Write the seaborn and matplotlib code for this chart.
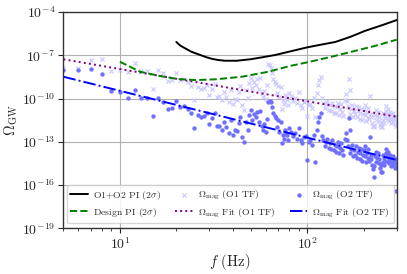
import numpy as np
import pandas as pd
import matplotlib
matplotlib.use("Agg")
import matplotlib.pyplot as plt
import seaborn as sns

# power-law integrated curves (log10 of Omega_GW)
pi_f = [20, 21, 22.3, 24, 26.8, 29, 31, 33.5, 36.4, 42, 49.6, 57, 67.5, 80, 100, 120, 141, 170, 204, 250, 300]
pi_o1o2 = [-6.08, -6.33, -6.52, -6.75, -6.98, -7.14, -7.25, -7.33, -7.38, -7.38, -7.28, -7.15, -6.98,
           -6.75, -6.45, -6.25, -6.08, -5.72, -5.30, -4.92, -4.56]

design_f = [10, 12.8, 16.4, 20.4, 25.2, 32.2, 44.8, 62.1, 81, 100, 135, 173, 230, 300]
design_pi = [-7.45, -8.14, -8.44, -8.65, -8.72, -8.67, -8.49, -8.14, -7.74, -7.49, -7.10, -6.75, -6.35, -5.92]

# power-law fits (end points, log10)
fit_f = [5, 300]
fit_o1 = [-7.28, -11.26]
fit_o2 = [-8.49, -14.26]

# magnetometer budget points (log10 Omega_mag)
freqs = list(range(5, 81)) + list(range(82, 301, 2))

omega_o2 = [
    -8.02, -8.02, -7.95, -8.30, -9.46, -9.53, -9.96, -9.41, -9.94, -9.94,
    -11.19, -9.94, -10.22, -10.75, -10.64, -10.17, -10.57, -10.52, -10.73, -11.03,
    -12.02, -11.14, -11.30, -11.21, -11.03, -11.77, -11.37, -10.98, -11.90, -11.88,
    -12.18, -11.60, -11.95, -12.37, -11.49, -12.53, -12.18, -12.23, -11.70, -11.30,
    -12.65, -13.00, -11.60, -12.18, -11.14, -10.80, -11.50, -11.07, -11.30, -10.91,
    -11.60, -10.84, -11.90, -12.20, -11.80, -12.30, -11.40, -10.22, -10.15, -10.22,
    -10.56, -11.00, -11.21, -11.37, -11.95, -11.49, -12.30, -11.60, -13.10, -12.50,
    -12.80, -12.18, -12.40, -12.53, -12.90, -12.07,
    -12.30, -12.60, -12.41, -12.80, -12.02, -12.90, -13.10, -12.70, -12.60, -14.26,
    -13.00, -12.90, -13.20, -12.50, -14.38, -12.18, -11.60, -11.30, -11.03, -12.60,
    -12.90, -13.30, -13.00, -12.80, -13.40, -13.10, -13.50, -12.90, -13.60, -13.20,
    -13.70, -13.30, -13.00, -13.80, -13.40, -13.10, -13.60, -13.90, -12.80, -12.41,
    -12.90, -13.30, -11.37, -12.18, -13.80, -13.50, -13.20, -14.00, -13.60, -13.90,
    -13.30, -14.10, -13.70, -13.40, -14.20, -13.80, -13.50, -14.30, -13.90, -13.60,
    -14.00, -13.30, -14.40, -13.80, -14.10, -13.50, -14.30, -12.65, -13.90, -14.20,
    -14.60, -14.90, -15.42, -14.70, -14.00, -13.70, -14.40, -14.10, -13.80, -14.50,
    -14.20, -14.80, -14.60, -15.10, -15.07, -14.40, -13.90, -14.10, -14.60, -14.30,
    -13.80, -13.50, -14.00, -14.40, -13.70, -14.20, -14.50, -13.90, -14.30, -14.70,
    -14.10, -14.40, -14.00, -14.60, -14.30, -14.80, -14.50, -16.41, -14.20, -14.60,
]

omega_o1 = [
    -7.90, -7.86, -7.33, -7.28, -8.09, -8.00, -8.18, -7.56, -8.07, -8.07,
    -9.34, -8.02, -8.25, -8.79, -8.72, -8.21, -8.73, -8.66, -8.85, -9.13,
    -10.10, -9.21, -9.35, -9.25, -9.05, -9.78, -9.36, -8.96, -9.86, -9.83,
    -10.12, -9.52, -9.86, -10.27, -9.38, -10.41, -10.05, -10.09, -9.55, -9.14,
    -10.48, -10.82, -9.41, -9.98, -8.93, -8.58, -9.27, -8.83, -9.06, -8.66,
    -9.34, -8.57, -9.62, -9.91, -9.51, -10.00, -9.09, -7.60, -7.70, -7.89,
    -8.22, -8.66, -8.86, -9.01, -9.59, -9.12, -9.92, -9.22, -10.71, -10.10,
    -10.40, -9.77, -9.99, -10.11, -10.47, -9.64,
    -9.84, -10.14, -9.95, -10.34, -9.56, -10.44, -10.64, -10.24, -10.14, -11.20,
    -10.45, -10.35, -10.65, -9.95, -11.30, -9.63, -9.05, -8.75, -8.48, -9.98,
    -10.28, -10.68, -10.38, -10.18, -10.78, -10.48, -10.88, -10.28, -10.98, -10.51,
    -11.01, -10.61, -10.31, -11.11, -10.71, -10.41, -10.91, -11.21, -10.11, -9.66,
    -10.15, -10.55, -8.62, -9.43, -11.05, -10.75, -10.45, -11.25, -10.85, -11.10,
    -10.50, -11.30, -10.90, -10.60, -11.40, -11.00, -10.70, -11.50, -11.10, -10.75,
    -11.15, -10.45, -11.55, -10.95, -11.25, -10.65, -11.45, -9.80, -11.05, -11.31,
    -11.71, -11.90, -12.00, -11.81, -11.11, -10.81, -11.51, -11.21, -10.91, -11.57,
    -11.27, -11.87, -11.67, -12.00, -12.00, -11.47, -10.97, -11.17, -11.67, -11.34,
    -10.84, -10.54, -11.04, -11.44, -10.74, -11.24, -11.54, -10.94, -11.34, -11.70,
    -11.10, -11.40, -11.00, -11.60, -11.30, -11.80, -11.50, -11.90, -11.20, -11.60,
]

pts = pd.DataFrame({"f": freqs,
                    "o1": np.power(10.0, omega_o1),
                    "o2": np.power(10.0, omega_o2)})

sns.set_style("ticks")
plt.rcParams["font.family"] = ["cmr10", "DejaVu Serif"]
plt.rcParams["mathtext.fontset"] = "cm"
plt.rcParams["axes.formatter.use_mathtext"] = True
plt.rcParams["axes.unicode_minus"] = False

fig = plt.figure(figsize=(4.07, 2.74), dpi=100)
ax = fig.add_axes([0.156, 0.1668, 0.8187, 0.7894])

sns.scatterplot(data=pts, x="f", y="o1", ax=ax, marker="x", s=9, color="#c8c8ff",
                linewidth=0.8, label=r"$\Omega_{\rm mag}$ (O1 TF)", zorder=2)
sns.scatterplot(data=pts, x="f", y="o2", ax=ax, marker="o", s=10, color="#7070ff",
                linewidth=0, label=r"$\Omega_{\rm mag}$ (O2 TF)", zorder=2)

sns.lineplot(x=pi_f, y=np.power(10.0, pi_o1o2), ax=ax, color="black", lw=1.4,
             label=r"O1+O2 PI (2$\sigma$)", zorder=4)
sns.lineplot(x=design_f, y=np.power(10.0, design_pi), ax=ax, color="green", lw=1.4,
             linestyle="--", label=r"Design PI (2$\sigma$)", zorder=4)
sns.lineplot(x=fit_f, y=np.power(10.0, fit_o1), ax=ax, color="purple", lw=1.4,
             linestyle=":", label=r"$\Omega_{\rm mag}$ Fit (O1 TF)", zorder=3)
sns.lineplot(x=fit_f, y=np.power(10.0, fit_o2), ax=ax, color="blue", lw=1.4,
             linestyle="-.", label=r"$\Omega_{\rm mag}$ Fit (O2 TF)", zorder=3)

ax.set_xscale("log")
ax.set_yscale("log")
ax.set_xlim(5, 300)
ax.set_ylim(1e-19, 1e-4)
ax.set_yticks([1e-19, 1e-16, 1e-13, 1e-10, 1e-7, 1e-4])
ax.minorticks_off()
ax.xaxis.set_minor_locator(matplotlib.ticker.LogLocator(base=10, subs=np.arange(2, 10)))
ax.xaxis.set_minor_formatter(matplotlib.ticker.NullFormatter())
ax.grid(True, which="major", color="#b0b0b0", lw=0.8)
ax.tick_params(labelsize=10, length=3.5, width=0.8, pad=2.5)
ax.tick_params(which="minor", length=2, width=0.6)
for sp in ax.spines.values():
    sp.set_linewidth(1.0)
    sp.set_color("#333333")

ax.set_xlabel(r"$f$ (Hz)", fontsize=10.5, labelpad=0)
ax.set_ylabel(r"$\Omega_{\rm GW}$", fontsize=10.5, labelpad=1)

h, l = ax.get_legend_handles_labels()
order = [2, 3, 0, 4, 1, 5]
ax.legend([h[i] for i in order], [l[i] for i in order], ncol=3, loc="lower center",
          fontsize=7, handlelength=1.8, handletextpad=0.5, columnspacing=1.5,
          borderaxespad=0.5, labelspacing=0.4, framealpha=0.8, edgecolor="0.8",
          fancybox=True)

fig.savefig("out.png", dpi=100)
